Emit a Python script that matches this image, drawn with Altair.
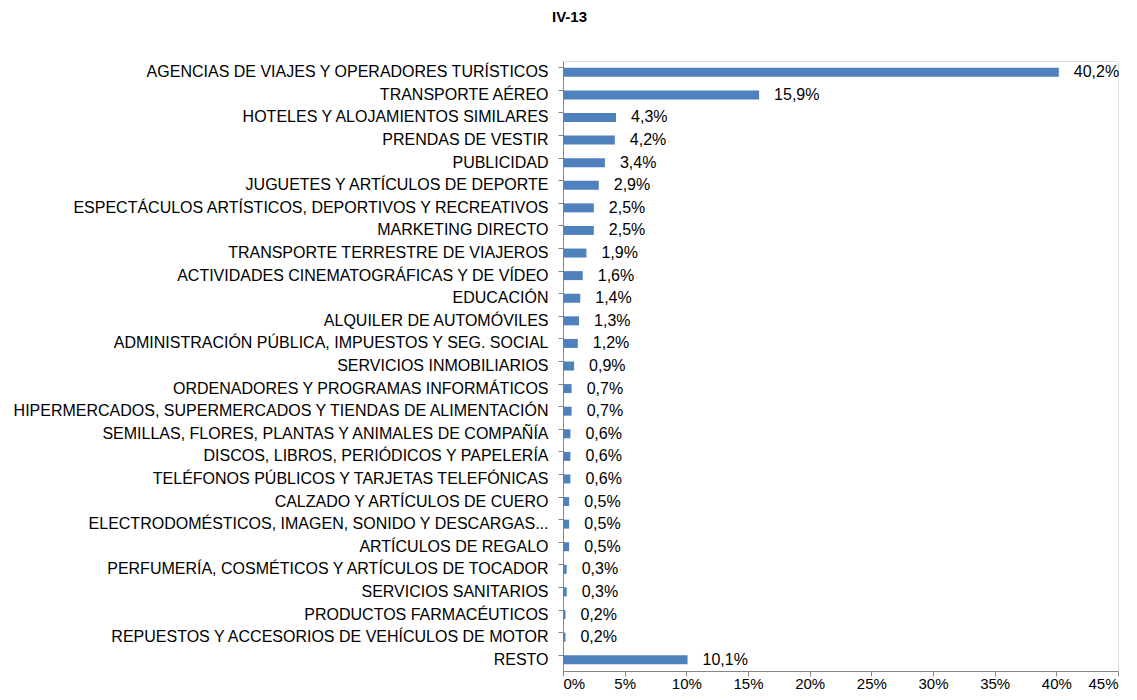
import altair as alt
import pandas as pd

categories = [
    "AGENCIAS DE VIAJES Y OPERADORES TURÍSTICOS",
    "TRANSPORTE AÉREO",
    "HOTELES  Y ALOJAMIENTOS SIMILARES",
    "PRENDAS DE VESTIR",
    "PUBLICIDAD",
    "JUGUETES Y ARTÍCULOS DE DEPORTE",
    "ESPECTÁCULOS ARTÍSTICOS, DEPORTIVOS Y RECREATIVOS",
    "MARKETING DIRECTO",
    "TRANSPORTE TERRESTRE DE VIAJEROS",
    "ACTIVIDADES CINEMATOGRÁFICAS Y DE VÍDEO",
    "EDUCACIÓN",
    "ALQUILER DE AUTOMÓVILES",
    "ADMINISTRACIÓN PÚBLICA, IMPUESTOS Y SEG. SOCIAL",
    "SERVICIOS INMOBILIARIOS",
    "ORDENADORES Y PROGRAMAS INFORMÁTICOS",
    "HIPERMERCADOS, SUPERMERCADOS Y TIENDAS DE ALIMENTACIÓN",
    "SEMILLAS, FLORES, PLANTAS Y ANIMALES DE COMPAÑÍA",
    "DISCOS, LIBROS, PERIÓDICOS Y PAPELERÍA",
    "TELÉFONOS PÚBLICOS Y TARJETAS TELEFÓNICAS",
    "CALZADO Y ARTÍCULOS DE CUERO",
    "ELECTRODOMÉSTICOS,  IMAGEN,  SONIDO Y DESCARGAS...",
    "ARTÍCULOS DE REGALO",
    "PERFUMERÍA, COSMÉTICOS Y ARTÍCULOS DE TOCADOR",
    "SERVICIOS SANITARIOS",
    "PRODUCTOS FARMACÉUTICOS",
    "REPUESTOS Y ACCESORIOS DE VEHÍCULOS DE MOTOR",
    "RESTO",
]
values = [40.2, 15.9, 4.3, 4.2, 3.4, 2.9, 2.5, 2.5, 1.9, 1.6, 1.4, 1.3, 1.2,
          0.9, 0.7, 0.7, 0.6, 0.6, 0.6, 0.5, 0.5, 0.5, 0.3, 0.3, 0.2, 0.2, 10.1]
x_ticks = [0, 5, 10, 15, 20, 25, 30, 35, 40, 45]

df = pd.DataFrame({"cat": categories, "val": values})
df["label"] = [f"{v:.1f}%".replace(".", ",") for v in values]

FONT = "Liberation Sans"
FS = 16

y_enc = alt.Y(
    "cat:N", sort=categories, title=None,
    scale=alt.Scale(paddingInner=0.6, paddingOuter=0.3),
    axis=alt.Axis(
        bandPosition=0, domainColor="#868686", tickColor="#868686",
        tickSize=5, labelPadding=10, labelFontSize=FS, labelFont=FONT,
        labelColor="#000000", labelLimit=700, grid=False,
    ),
)

x_enc = alt.X(
    "val:Q", title=None,
    scale=alt.Scale(domain=[0, 45], nice=False),
    axis=alt.Axis(
        values=x_ticks, labelExpr="datum.value + '%'",
        domainColor="#868686", tickColor="#868686", tickSize=5,
        labelPadding=0, labelFontSize=15, labelFont=FONT,
        labelColor="#000000", grid=False,
    ),
)

bars = alt.Chart(df).mark_bar(color="#4F81BD", size=9).encode(x=x_enc, y=y_enc)
texts = alt.Chart(df).mark_text(
    align="left", baseline="middle", dx=15, fontSize=FS, font=FONT, color="#000000"
).encode(x="val:Q", y=alt.Y("cat:N", sort=categories), text="label:N")

chart = (bars + texts).properties(
    width=555, height=610,
    title=alt.TitleParams("IV-13", fontSize=15, font=FONT, fontWeight="bold",
                          anchor="middle", dx=-271, offset=36, color="#000000"),
    autosize=alt.AutoSizeParams(type="none"),
    padding={"left": 555, "top": 53, "right": 11, "bottom": 21},
).configure_view(stroke=None).configure(background="white")

chart.save("out.html", embed_options={"renderer": "svg", "actions": False})
